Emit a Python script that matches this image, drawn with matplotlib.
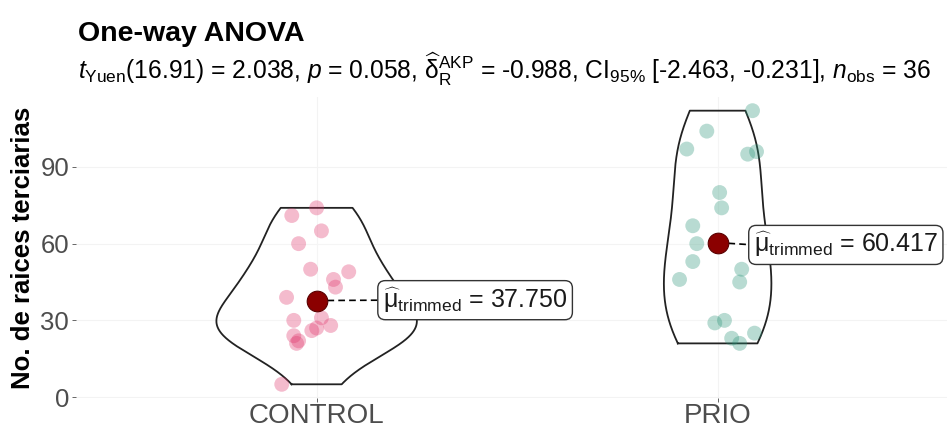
import numpy as np
import matplotlib.pyplot as plt

plt.rcParams['font.family'] = 'Liberation Sans'
plt.rcParams['mathtext.fontset'] = 'custom'
plt.rcParams['mathtext.rm'] = 'Liberation Sans'
plt.rcParams['mathtext.it'] = 'Liberation Sans:italic'
plt.rcParams['mathtext.bf'] = 'Liberation Sans:bold'

groups = ['CONTROL', 'PRIO']

control = [5, 21, 22, 24, 26, 27, 28, 30, 31, 39, 43, 46, 49, 50, 60, 65, 71, 74]
control_jitter = [-0.087, -0.050, -0.045, -0.057, -0.012, 0.000, 0.035, -0.057, 0.012,
                  -0.075, 0.047, 0.042, 0.080, -0.015, -0.045, 0.012, -0.062, 0.000]

prio = [21, 23, 25, 29, 30, 45, 46, 50, 53, 60, 67, 74, 80, 95, 96, 97, 104, 112]
prio_jitter = [0.055, 0.035, 0.092, -0.007, 0.017, 0.055, -0.095, 0.060, -0.062,
               -0.052, -0.062, 0.010, 0.005, 0.075, 0.097, -0.077, -0.027, 0.087]

trimmed_means = [37.750, 60.417]

subtitle = (r'$t_{\mathrm{Yuen}}$(16.91) = 2.038, $p$ = 0.058, '
            r'$\widehat{\mathrm{\delta}}_{\mathrm{R}}^{\mathrm{AKP}}$ = -0.988, '
            r'CI$_{95\%}$ [-2.463, -0.231], $n_{\mathrm{obs}}$ = 36')

point_colors = ['#e0336a', '#2a9478']


def bw_nrd0(x):
    x = np.asarray(x, float)
    q75, q25 = np.percentile(x, [75, 25])
    lo = min(np.std(x, ddof=1), (q75 - q25) / 1.34)
    return 0.9 * lo * len(x) ** -0.2


def kde(x, grid, adjust=1.0):
    x = np.asarray(x, float)
    h = bw_nrd0(x) * adjust
    z = (grid[:, None] - x[None, :]) / h
    return np.exp(-0.5 * z ** 2).sum(axis=1) / (len(x) * h * np.sqrt(2 * np.pi))


fig = plt.figure(figsize=(9.47, 4.29), dpi=100)
ax = fig.add_axes([0.0803, 0.0723, 0.9197, 0.7016])

data = [control, prio]
jitter = [control_jitter, prio_jitter]

# violins, trimmed to the data range, scaled by area (max width 0.5)
grids = [np.linspace(min(d), max(d), 512) for d in data]
dens = [kde(d, g, adjust=1.2) for d, g in zip(data, grids)]
dmax = max(d.max() for d in dens)
for i, (g, d) in enumerate(zip(grids, dens)):
    xc = i + 1
    hw = 0.25 * d / dmax
    xs = np.concatenate([xc - hw, (xc + hw)[::-1], [xc - hw[0]]])
    ys = np.concatenate([g, g[::-1], [g[0]]])
    ax.fill(xs, ys, facecolor='white', alpha=0.2, zorder=2)
    ax.plot(xs, ys, color='#222222', lw=1.3, zorder=3)

# jittered observations
for i, (d, j) in enumerate(zip(data, jitter)):
    ax.scatter(np.array(j) + i + 1, d, s=115, color=point_colors[i], alpha=0.33,
               edgecolors='none', zorder=4)

# trimmed means with labels
label_dx = [0.165, 0.09]
label_y = [37.9, 59.5]
for i, m in enumerate(trimmed_means):
    xc = i + 1
    ax.plot([xc, xc + label_dx[i]], [m, label_y[i]], ls=(0, (4, 2.5)),
            color='black', lw=1.2, zorder=5)
    ax.scatter([xc], [m], s=220, color='#8b0000', edgecolors='#5a0000',
               linewidths=0.8, zorder=6)
    ax.text(xc + label_dx[i], label_y[i],
            r'$\widehat{\mathrm{\mu}}_{\mathrm{trimmed}}$' + f' = {m:.3f}',
            ha='left', va='center', fontsize=18, color='#1a1a1a', zorder=7,
            bbox=dict(boxstyle='round,pad=0.2,rounding_size=0.3',
                      facecolor='white', edgecolor='#333333', lw=1.0))

allv = np.concatenate(data)
span = allv.max() - allv.min()
ax.set_ylim(allv.min() - 0.05 * span, allv.max() + 0.05 * span)
ax.set_xlim(0.4, 2.572)

ax.set_xticks([1, 2])
ax.set_xticklabels(groups)
ax.set_yticks([0, 30, 60, 90])
ax.tick_params(axis='both', colors='#4d4d4d', labelcolor='#4d4d4d',
               length=3, width=0.6, pad=2)
ax.tick_params(axis='x', labelsize=20, pad=0.5)
ax.tick_params(axis='y', labelsize=18.5)
ax.grid(True, color='#f3f3f3', lw=0.8)
ax.set_axisbelow(True)
for s in ax.spines.values():
    s.set_visible(False)

ax.set_ylabel('No. de raices terciarias', fontsize=18.5, fontweight='bold',
              labelpad=4)

fig.text(0.0824, 0.905, 'One-way ANOVA', fontsize=20.5, fontweight='bold',
         ha='left', va='baseline')
fig.text(0.0824, 0.815, subtitle, fontsize=17.7, ha='left', va='baseline')

fig.savefig('out.png', dpi=100)
